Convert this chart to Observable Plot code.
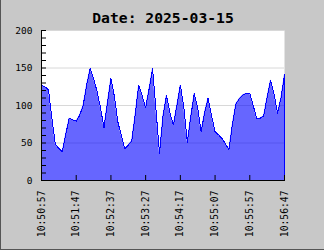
<!DOCTYPE html>
<html><head><meta charset="utf-8">
<script src="https://cdn.jsdelivr.net/npm/d3@7"></script>
<script src="https://cdn.jsdelivr.net/npm/@observablehq/plot@0.6"></script>
<style>
html,body{margin:0;padding:0;background:#c8c8c8;}
#wrap{position:relative;width:324px;height:250px;}
#wrap svg{display:block;}
#edge{position:absolute;left:0;top:0;width:323px;height:249px;border-left:1px solid #555;border-bottom:1px solid #555;pointer-events:none;}
</style>
</head><body><div id="wrap"><div id="chart"></div><div id="edge"></div></div>
<script>
const title = "Date: 2025-03-15";
const startTime = "10:50:57";
const stepSeconds = 5;
const values = [127,125,121,83,48,43,38,62,83,81,
  79,87,100,127,149,136,119,97,70,104,
  136,112,78,60,42,47,53,88,127,113,
  97,122,149,93,36,86,113,90,74,100,
  127,98,51,85,116,97,65,91,110,86,
  65,61,56,49,41,75,102,109,114,116,
  116,100,82,83,86,111,134,115,90,110,141];
const xTickLabels = ["10:50:57","10:51:47","10:52:37","10:53:27","10:54:17","10:55:07","10:55:57","10:56:47"];
const yTicks = [0,50,100,150,200];
const yMinorStep = 10;

const toDate = s => { const [h,m,sec] = s.split(":").map(Number); return new Date(2025,2,15,h,m,sec); };
const t0 = toDate(startTime);
const data = values.map((v,i) => ({t: new Date(t0.getTime() + i*stepSeconds*1000), v}));
const xTicks = xTickLabels.map(toDate);
const yMinor = d3.range(yTicks[0], yTicks[yTicks.length-1] + 1, yMinorStep);

const W = 324, H = 250, mL = 41, mR = 40, mT = 30, mB = 70;
const plotW = W - mL - mR, plotH = H - mT - mB;
const mono = "DejaVu Sans Mono";

const chart = Plot.plot({
  width: W, height: H,
  marginLeft: mL, marginRight: mR, marginTop: mT, marginBottom: mB,
  style: {background: "#c8c8c8", overflow: "visible"},
  x: {type: "time", domain: [data[0].t, data[data.length-1].t]},
  y: {domain: [0, 200]},
  marks: [
    Plot.frame({fill: "white", stroke: null}),
    Plot.gridY(yTicks.slice(1), {stroke: "#d8d8d8", strokeOpacity: 1}),
    Plot.areaY(data, {x: "t", y: "v", fill: "#0000ff", fillOpacity: 0.6}),
    Plot.lineY(data, {x: "t", y: "v", stroke: "#0000ff", strokeWidth: 1, shapeRendering: "crispEdges"}),
    Plot.ruleX([data[data.length-1]], {x: "t", y1: 0, y2: "v", stroke: "#0000ff"}),
    Plot.ruleY(yMinor, {y: d => d, insetRight: plotW - 5, stroke: "black"}),
    Plot.ruleX(xTicks, {x: d => d, insetTop: plotH - 5, stroke: "black"}),
    Plot.frame({anchor: "left", stroke: "black"}),
    Plot.frame({anchor: "bottom", stroke: "black"}),
    Plot.axisY(yTicks, {tickSize: 0, tickPadding: 9, label: null, fontFamily: mono, fontSize: 9.5, fill: "black"}),
    Plot.axisX(xTicks, {tickSize: 0, tickPadding: 10, tickRotate: -90, label: null,
      tickFormat: d3.timeFormat("%H:%M:%S"), fontFamily: mono, fontSize: 9.7, fill: "black"}),
    Plot.text([title], {text: d => d, frameAnchor: "top", dy: -18, fontFamily: mono, fontWeight: "bold", fontSize: 14.7, fill: "black"})
  ]
});
document.getElementById("chart").appendChild(chart);
</script>
</body></html>
